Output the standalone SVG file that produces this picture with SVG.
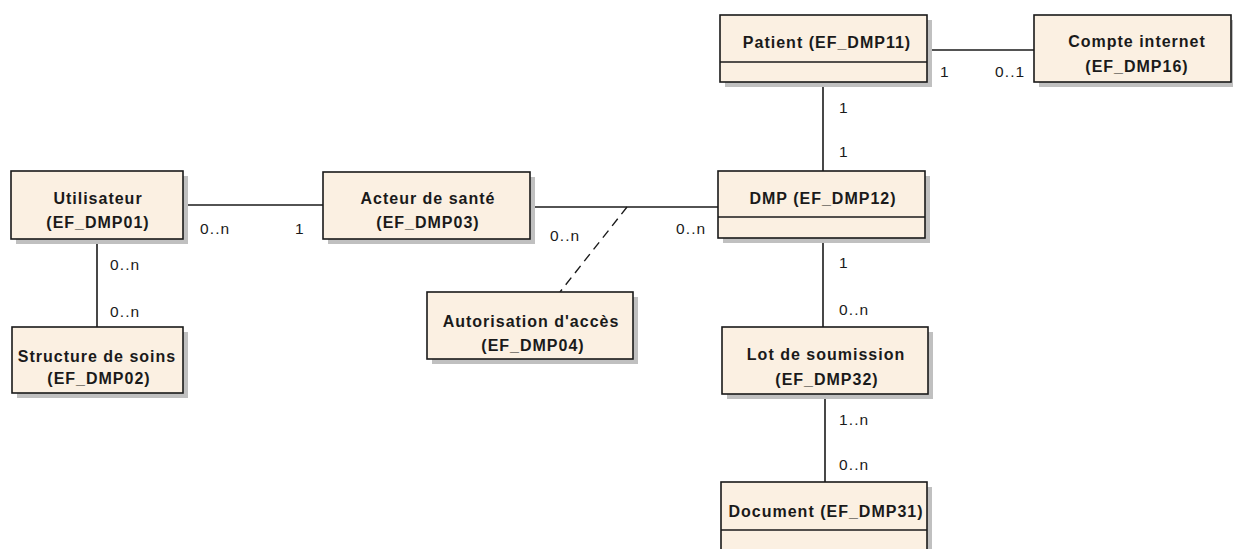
<svg xmlns="http://www.w3.org/2000/svg" width="1233" height="549" viewBox="0 0 1233 549">
<style>
.sh{fill:#c0c0c0;stroke:none}
.bx{fill:#fbf0e2;stroke:#1a1a1a;stroke-width:1.6}
.dv{stroke:#1a1a1a;stroke-width:1.6}
.t{font-family:"Liberation Sans",Arial,sans-serif;font-weight:bold;font-size:16px;letter-spacing:1px;fill:#1a1a1a;text-anchor:middle}
.l{font-family:"Liberation Sans",Arial,sans-serif;font-size:15.5px;letter-spacing:1.1px;fill:#1a1a1a}
.c{stroke:#1a1a1a;stroke-width:1.6;fill:none}
.d{stroke:#1a1a1a;stroke-width:1.4;fill:none;stroke-dasharray:9,6}
</style>
<rect width="1233" height="549" fill="#ffffff"/>
<g id="connectors">
<line class="c" x1="927" y1="50" x2="1034" y2="50"/>
<line class="c" x1="823" y1="82" x2="823" y2="171"/>
<line class="c" x1="823" y1="238" x2="823" y2="327"/>
<line class="c" x1="825" y1="394" x2="825" y2="482"/>
<line class="c" x1="183" y1="205" x2="323" y2="205"/>
<line class="c" x1="530" y1="207" x2="718" y2="207"/>
<line class="c" x1="97" y1="239" x2="97" y2="327"/>
<line class="d" x1="627" y1="207" x2="560" y2="292"/>
<text class="l" x="200" y="234">0..n</text>
<text class="l" x="295" y="234">1</text>
<text class="l" x="550" y="241">0..n</text>
<text class="l" x="676" y="234">0..n</text>
<text class="l" x="940" y="77">1</text>
<text class="l" x="995" y="77">0..1</text>
<text class="l" x="839" y="113">1</text>
<text class="l" x="839" y="157">1</text>
<text class="l" x="839" y="268">1</text>
<text class="l" x="839" y="315">0..n</text>
<text class="l" x="839" y="425">1..n</text>
<text class="l" x="839" y="470">0..n</text>
<text class="l" x="110" y="270">0..n</text>
<text class="l" x="110" y="317">0..n</text>
</g>
<g id="patient">
<rect class="sh" x="725" y="20" width="207" height="67"/>
<rect class="bx" x="720" y="15" width="207" height="67"/>
<line class="dv" x1="720" y1="62" x2="927" y2="62"/>
<text class="t" x="827" y="48">Patient (EF_DMP11)</text>
</g>
<g id="compte">
<rect class="sh" x="1039" y="20" width="197" height="67"/>
<rect class="bx" x="1034" y="15" width="197" height="67"/>
<text class="t" x="1137" y="47">Compte internet</text>
<text class="t" x="1137" y="72">(EF_DMP16)</text>
</g>
<g id="utilisateur">
<rect class="sh" x="16" y="176" width="172" height="68"/>
<rect class="bx" x="11" y="171" width="172" height="68"/>
<text class="t" x="98" y="204">Utilisateur</text>
<text class="t" x="98" y="228">(EF_DMP01)</text>
</g>
<g id="acteur">
<rect class="sh" x="328" y="177" width="207" height="67"/>
<rect class="bx" x="323" y="172" width="207" height="67"/>
<text class="t" x="428" y="204">Acteur de santé</text>
<text class="t" x="428" y="228">(EF_DMP03)</text>
</g>
<g id="dmp">
<rect class="sh" x="723" y="176" width="207" height="67"/>
<rect class="bx" x="718" y="171" width="207" height="67"/>
<line class="dv" x1="718" y1="217" x2="925" y2="217"/>
<text class="t" x="823" y="204">DMP (EF_DMP12)</text>
</g>
<g id="autorisation">
<rect class="sh" x="432" y="297" width="206" height="67"/>
<rect class="bx" x="427" y="292" width="206" height="67"/>
<text class="t" x="531" y="327">Autorisation d'accès</text>
<text class="t" x="533" y="351">(EF_DMP04)</text>
</g>
<g id="structure">
<rect class="sh" x="17" y="332" width="171" height="66"/>
<rect class="bx" x="12" y="327" width="171" height="66"/>
<text class="t" x="97" y="362">Structure de soins</text>
<text class="t" x="99" y="384">(EF_DMP02)</text>
</g>
<g id="lot">
<rect class="sh" x="727" y="332" width="206" height="67"/>
<rect class="bx" x="722" y="327" width="206" height="67"/>
<text class="t" x="826" y="360">Lot de soumission</text>
<text class="t" x="827" y="385">(EF_DMP32)</text>
</g>
<g id="document">
<rect class="sh" x="726" y="487" width="206" height="80"/>
<rect class="bx" x="721" y="482" width="206" height="80"/>
<line class="dv" x1="721" y1="530" x2="927" y2="530"/>
<text class="t" x="826" y="517">Document (EF_DMP31)</text>
</g>
</svg>
